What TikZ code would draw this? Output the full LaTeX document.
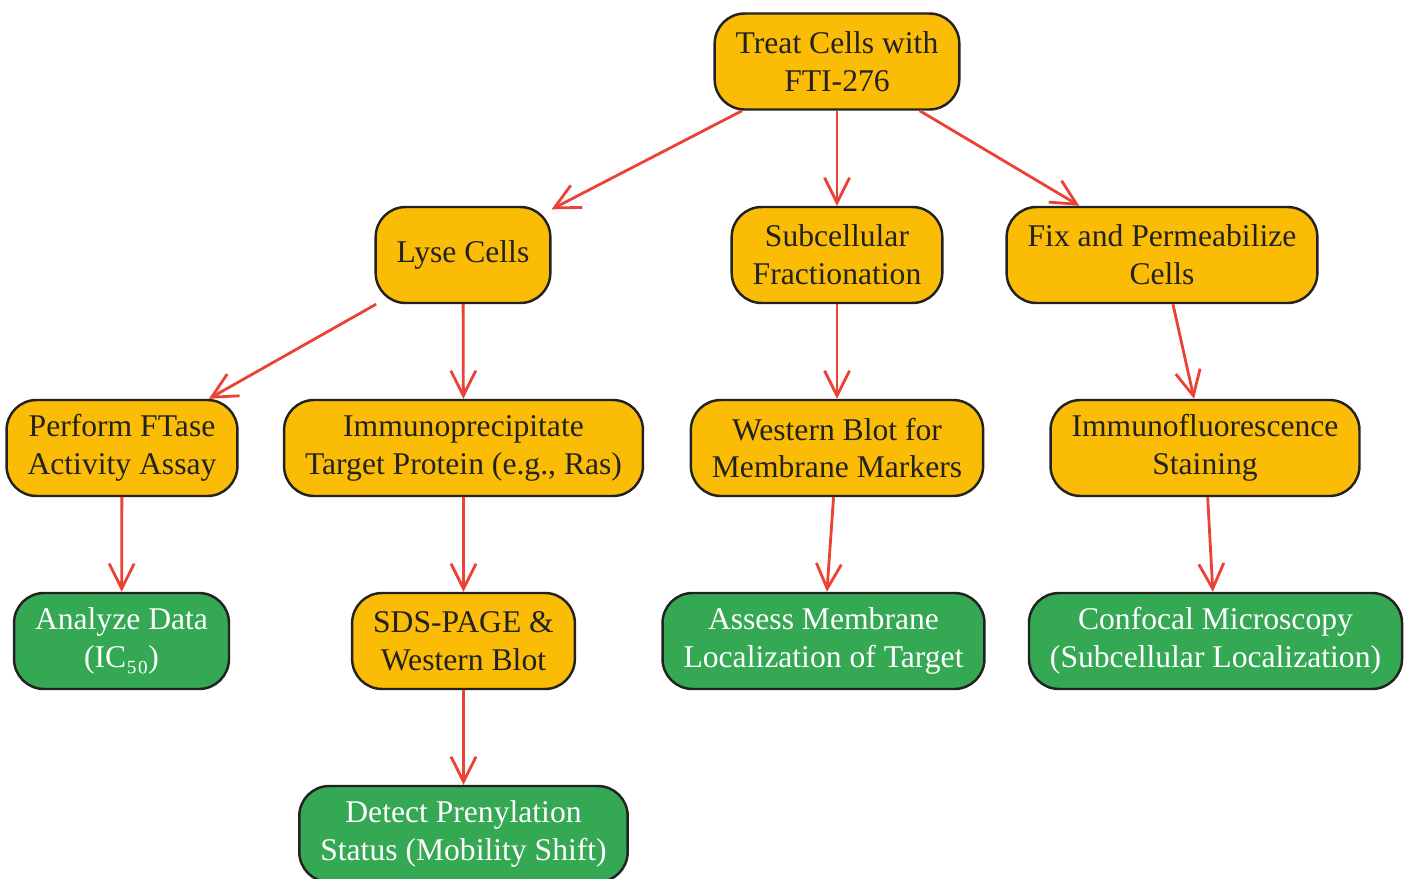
\documentclass[tikz,border=0pt]{standalone}
\usepackage{fontspec}
\setmainfont{Liberation Serif}
\usetikzlibrary{arrows.meta}

\definecolor{stageyellow}{HTML}{FBBC05}
\definecolor{outgreen}{HTML}{34A853}
\definecolor{flowred}{HTML}{EA4335}
\definecolor{rimgray}{HTML}{222222}

\begin{document}
\begin{tikzpicture}[x=0.02cm,y=-0.02cm,
  box/.style={draw=rimgray,line width=1.4pt,rounded corners=0.6cm,
    minimum height=1.92cm,inner xsep=0.42cm,inner ysep=0pt,align=center,
    font=\fontsize{18}{21.6}\selectfont},
  stage/.style={box,fill=stageyellow,text=rimgray},
  outcome/.style={box,fill=outgreen,text=white},
  flow/.style={draw=flowred,line width=1.6pt,
    -{Straight Barb[length=0.5cm,width=0.5cm]}}]

  % page frame
  \useasboundingbox (0,0) rectangle (1407,879);

  % top: treatment
  \node[stage] (treat) at (837,61.5) {Treat Cells with\\FTI-276};

  % second row: three branches
  \node[stage] (lyse) at (463,255) {Lyse Cells};
  \node[stage] (frac) at (837,255) {Subcellular\\Fractionation};
  \node[stage] (fix)  at (1162,255) {Fix and Permeabilize\\Cells};

  % third row
  \node[stage] (ftase) at (122,448) {Perform FTase\\Activity Assay};
  \node[stage] (ip)    at (463.5,448) {Immunoprecipitate\\Target Protein (e.g., Ras)};
  \node[stage] (wb)    at (837,448) {Western Blot for\\Membrane Markers};
  \node[stage] (ifs)   at (1205,448) {Immunofluorescence\\Staining};

  % fourth row
  \node[outcome] (ic)    at (121.5,641) {Analyze Data\\(IC₅₀)};
  \node[stage]   (sds)   at (463.5,641) {SDS-PAGE \&\\Western Blot};
  \node[outcome] (memb)  at (823.5,641) {Assess Membrane\\Localization of Target};
  \node[outcome] (conf)  at (1215.5,641) {Confocal Microscopy\\(Subcellular Localization)};

  % last row
  \node[outcome] (prenyl) at (463.5,834) {Detect Prenylation\\Status (Mobility Shift)};

  % connectors
  \draw[flow] (treat) -- (lyse);
  \draw[flow] (treat) -- (frac);
  \draw[flow] (treat) -- (fix);
  \draw[flow] (lyse) -- (ftase);
  \draw[flow] (lyse) -- (ip);
  \draw[flow] (frac) -- (wb);
  \draw[flow] (fix) -- (ifs);
  \draw[flow] (ftase) -- (ic);
  \draw[flow] (ip) -- (sds);
  \draw[flow] (wb) -- (memb);
  \draw[flow] (ifs) -- (conf);
  \draw[flow] (sds) -- (prenyl);

\end{tikzpicture}
\end{document}
